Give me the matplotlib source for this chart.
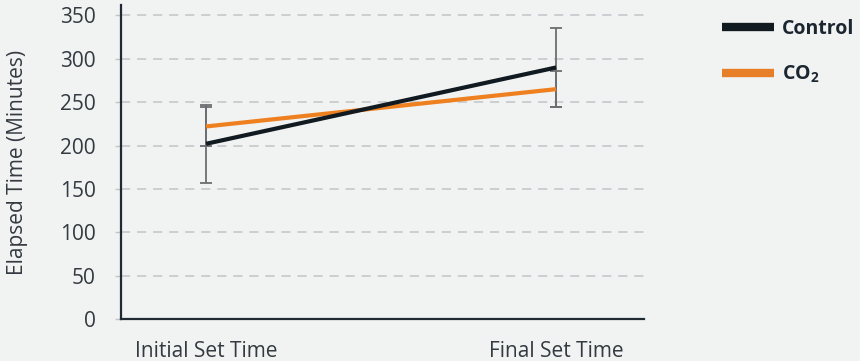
import matplotlib.pyplot as plt
import matplotlib.transforms as mtransforms
from matplotlib.lines import Line2D

# 数据
stages = ['Initial Set Time', 'Final Set Time']
control = [202, 290]
control_err = [45, 45]
co2 = [222, 265]
co2_err = [23, 21]
yticks = [0, 50, 100, 150, 200, 250, 300, 350]

bg = '#f1f2f2'
black = '#111a20'
orange = '#ee8020'
text_c = '#333a40'

plt.rcParams['font.family'] = ['Open Sans', 'DejaVu Sans']
plt.rcParams['mathtext.fontset'] = 'custom'
plt.rcParams['mathtext.rm'] = 'Open Sans'
plt.rcParams['mathtext.bf'] = 'Open Sans:bold'

fig = plt.figure(figsize=(8.6, 3.61), dpi=100, facecolor=bg)
ax = fig.add_axes([0.1407, 0.1163, 0.6081, 0.8698], facecolor=bg)

x = list(range(len(stages)))

# 误差线放在折线下面
ax.errorbar(x, control, yerr=control_err, fmt='none', ecolor='#6b6e70',
            elinewidth=1.3, capsize=4, capthick=1.3, zorder=2)
ax.errorbar(x, co2, yerr=co2_err, fmt='none', ecolor='#6b6e70',
            elinewidth=1.3, capsize=4, capthick=1.3, zorder=2)
ax.plot(x, control, color=black, lw=3, solid_capstyle='butt', zorder=4)
ax.plot(x, co2, color=orange, lw=3, solid_capstyle='butt', zorder=3)

ax.set_xlim(-0.243, 1.251)
ax.set_ylim(0, 362)
ax.set_yticks(yticks)
ax.set_xticks(x)
ax.set_xticklabels(stages)

# 横轴标签稍微往中间收一点
for lab, dx in zip(ax.get_xticklabels(), [6, -4]):
    lab.set_transform(lab.get_transform() +
                      mtransforms.ScaledTranslation(dx / 100, 0, fig.dpi_scale_trans))

ax.grid(axis='y', color='#c2c5c7', linestyle=(0, (6, 4.5)), linewidth=1.1, zorder=1)
ax.set_axisbelow(True)

for s in ['top', 'right']:
    ax.spines[s].set_visible(False)
for s in ['left', 'bottom']:
    ax.spines[s].set_color('#1f2a33')
    ax.spines[s].set_linewidth(1.6)

ax.tick_params(axis='y', length=4.3, width=1, color='#c2c5c7', pad=14,
               labelsize=15, labelcolor=text_c)
ax.tick_params(axis='x', length=0, pad=16, labelsize=15, labelcolor=text_c)
ax.set_ylabel('Elapsed Time (Minutes)', fontsize=15, color=text_c, labelpad=23)

handles = [Line2D([], [], color=black, lw=6, solid_capstyle='butt'),
           Line2D([], [], color='#e67f28', lw=6, solid_capstyle='butt')]
leg = fig.legend(handles, ['Control', r'$\mathbf{CO_2}$'],
                 loc='upper left', bbox_to_anchor=(0.819, 0.995),
                 frameon=False, handlelength=2.7, handletextpad=0.4,
                 labelspacing=1.25, prop={'weight': 'bold', 'size': 14})
for t in leg.get_texts():
    t.set_color('#1b2630')

fig.savefig('out.png', dpi=100, facecolor=bg)
